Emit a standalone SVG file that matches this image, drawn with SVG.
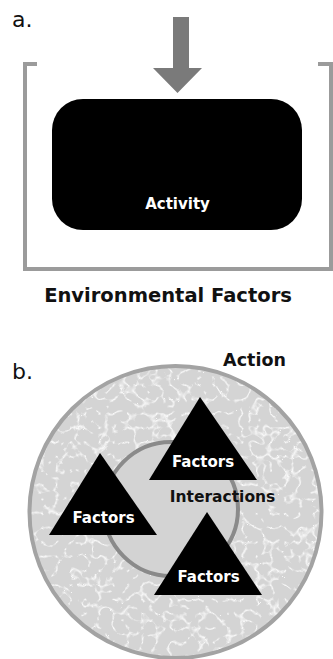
<svg xmlns="http://www.w3.org/2000/svg" width="333" height="659" viewBox="0 0 333 659">
  <style>
    .lbl { font-family: "DejaVu Sans", Verdana, sans-serif; }
    .bold { font-weight: bold; }
    .white { fill: #ffffff; }
    .dark { fill: #111111; }
    .tri { fill: #000000; }
  </style>
  <defs>
    <filter id="fiber" x="0" y="0" width="100%" height="100%" filterUnits="objectBoundingBox">
      <feTurbulence type="turbulence" baseFrequency="0.07" numOctaves="2" seed="11" result="t"/>
      <feColorMatrix in="t" type="matrix" values="0 0 0 0 1  0 0 0 0 1  0 0 0 0 1  -6 0 0 0 1.05"/>
    </filter>
    <clipPath id="outerClip">
      <circle cx="175.5" cy="512" r="146"/>
    </clipPath>
  </defs>
  <rect x="0" y="0" width="333" height="659" fill="#ffffff"/>

  <!-- Part a -->
  <text class="lbl dark" x="12" y="27" font-size="22">a.</text>
  <g id="environment">
    <path d="M37,64 H25 V269 H331 V64 H318" fill="none" stroke="#9b9b9b" stroke-width="4"/>
    <text class="lbl bold dark" x="168" y="302" font-size="19.5" text-anchor="middle">Environmental Factors</text>
  </g>
  <g id="activity">
    <rect x="52" y="99" width="250" height="131" rx="31" ry="31" fill="#000000"/>
    <text class="lbl bold white" x="177.5" y="209" font-size="15" text-anchor="middle">Activity</text>
  </g>
  <g id="connectors">
    <path d="M173,17 H189 V68 H202 L177.5,93 L153,68 H173 Z" fill="#7a7a7a"/>
  </g>

  <!-- Part b -->
  <text class="lbl dark" x="12" y="379" font-size="22">b.</text>
  <g id="action">
    <circle cx="175.5" cy="512" r="146" fill="#d4d4d4"/>
    <g clip-path="url(#outerClip)" opacity="0.8">
      <rect x="28" y="365" width="296" height="296" filter="url(#fiber)"/>
    </g>
    <circle cx="175.5" cy="512" r="146" fill="none" stroke="#a3a3a3" stroke-width="4"/>
    <text class="lbl bold dark" x="254.5" y="366" font-size="17.5" text-anchor="middle">Action</text>
  </g>
  <g id="interactions">
    <circle cx="171" cy="509" r="67" fill="#d3d3d3" stroke="#8a8a8a" stroke-width="4"/>
    <text class="lbl bold dark" x="222.5" y="502" font-size="15.5" text-anchor="middle">Interactions</text>
  </g>
  <g id="factors-top">
    <polygon class="tri" points="200,397 149,480 257,480"/>
    <text class="lbl bold white" x="203" y="467" font-size="15" text-anchor="middle">Factors</text>
  </g>
  <g id="factors-left">
    <polygon class="tri" points="100,453 49,535 157,535"/>
    <text class="lbl bold white" x="103.5" y="523" font-size="15" text-anchor="middle">Factors</text>
  </g>
  <g id="factors-bottom">
    <polygon class="tri" points="207,512 154,595 262,595"/>
    <text class="lbl bold white" x="208.5" y="582" font-size="15" text-anchor="middle">Factors</text>
  </g>
</svg>
